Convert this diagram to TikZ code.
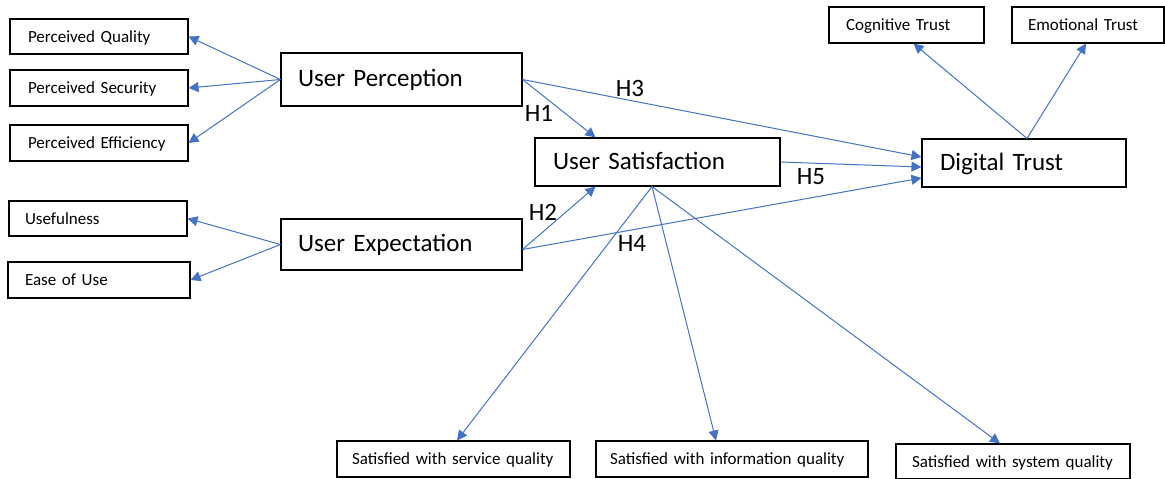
\documentclass[tikz,border=0pt]{standalone}
\usepackage{fontspec}
\setmainfont{Carlito}
\usetikzlibrary{arrows.meta}
\definecolor{arr}{RGB}{68,114,196}
\begin{document}
\begin{tikzpicture}[x=1pt,y=-1pt,
  box/.style={draw, line width=1.1pt, align=left, inner ysep=0pt, anchor=center},
  sm/.style={box, font=\fontsize{17}{20}\selectfont, text height=14pt, text depth=3pt},
  lg/.style={box, font=\fontsize{25}{30}\selectfont, text height=19pt, text depth=5pt},
  conn/.style={draw=arr, line width=1pt, -{Triangle[length=10pt,width=10pt]}},
  hl/.style={font=\fontsize{25}{30}\selectfont, inner sep=0pt}]
\useasboundingbox (0,0) rectangle (1165,479);
% left boxes
\node[sm, text width=142pt, inner xsep=18pt, minimum height=35pt] (pq) at (99,36.5) {Perceived Quality};
\node[sm, text width=142pt, inner xsep=18pt, minimum height=36pt] (ps) at (99,88) {Perceived Security};
\node[sm, text width=142pt, inner xsep=18pt, minimum height=36pt] (pe) at (99,143) {Perceived Efficiency};
\node[sm, text width=146pt, inner xsep=16pt, minimum height=35pt] (us) at (98,218.5) {Usefulness};
\node[sm, text width=148pt, inner xsep=17pt, minimum height=36pt] (eu) at (99,280) {Ease of Use};
% main boxes
\node[lg, text width=207pt, inner xsep=17pt, minimum height=53pt] (up) at (401.5,79.5) {User Perception};
\node[lg, text width=207pt, inner xsep=17pt, minimum height=51pt] (ue) at (401.5,244.5) {User Expectation};
\node[lg, text width=209pt, inner xsep=18pt, minimum height=48pt] (usat) at (657.5,162) {User Satisfaction};
\node[lg, text width=168pt, inner xsep=18pt, minimum height=48pt] (dt) at (1024,163) {Digital Trust};
% top right
\node[sm, text width=121pt, inner xsep=17pt, minimum height=36pt] (ct) at (906.5,25) {Cognitive Trust};
\node[sm, text width=120pt, inner xsep=16pt, minimum height=36pt] (et) at (1088,25) {Emotional Trust};
% bottom
\node[sm, text width=203pt, inner xsep=15pt, minimum height=36pt] (ssq) at (453.5,459) {Satisfied with service quality};
\node[sm, text width=244pt, inner xsep=14pt, minimum height=36pt] (siq) at (732,459) {Satisfied with information quality};
\node[sm, text width=202pt, inner xsep=16pt, minimum height=35pt] (ssy) at (1013,461.5) {Satisfied with system quality};
% connectors
\draw[conn] (up.west) -- (pq.east);
\draw[conn] (up.west) -- (ps.east);
\draw[conn] (up.west) -- (pe.east);
\draw[conn] (ue.west) -- (us.east);
\draw[conn] (ue.west) -- (eu.east);
\draw[conn] (up.east) -- ([xshift=-62pt]usat.north);
\draw[conn] (up.east) -- ([yshift=6pt]dt.west);
\draw[conn] ([yshift=-5pt]ue.east) -- ([xshift=-62pt]usat.south);
\draw[conn] ([yshift=-5pt]ue.east) -- ([yshift=-15pt]dt.west);
\draw[conn] (usat.east) -- ([yshift=-4pt]dt.west);
\coordinate (sb) at ([xshift=-5.5pt]usat.south);
\draw[conn] (sb) -- ([xshift=3.5pt]ssq.north);
\draw[conn] (sb) -- ([xshift=-16pt]siq.north);
\draw[conn] (sb) -- ([xshift=-13pt]ssy.north);
\coordinate (dtn) at ([xshift=3pt]dt.north);
\draw[conn] (dtn) -- ([xshift=7pt]ct.south);
\draw[conn] (dtn) -- ([xshift=-2pt]et.south);
% labels
\node[hl] (h1) at (539,113) {H1};
\node[hl] (h3) at (630,88) {H3};
\node[hl] (h2) at (543,212) {H2};
\node[hl] (h4) at (632,243) {H4};
\node[hl] (h5) at (811,177) {H5};
\end{tikzpicture}
\end{document}
